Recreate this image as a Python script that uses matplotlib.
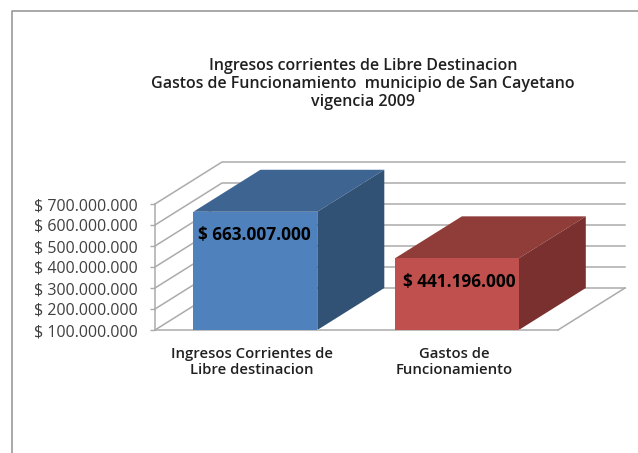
import matplotlib
matplotlib.use('Agg')
import matplotlib.pyplot as plt
from matplotlib.lines import Line2D
from matplotlib.patches import Polygon

plt.rcParams['font.family'] = ['Open Sans', 'DejaVu Sans']

TITLE = 'Ingresos corrientes de Libre Destinacion\nGastos de Funcionamiento  municipio de San Cayetano\nvigencia 2009'
CATEGORIES = ['Ingresos Corrientes de\nLibre destinacion', 'Gastos de\nFuncionamiento']
VALUES = [663007000, 441196000]
Y_TICKS = [100000000, 200000000, 300000000, 400000000, 500000000, 600000000, 700000000]

FRONT_COLORS = ['#4F81BD', '#C0504D']
TOP_COLORS = ['#3E6491', '#903C39']
SIDE_COLORS = ['#315275', '#7A302E']
GRID_COLOR = '#ABABAB'

W, H = 638, 453
BAR_WIDTH = 0.615
DEPTH_X = 0.3325
DEPTH_Y = 200000000


def money(value):
    return '$ ' + f'{value:,}'.replace(',', '.')


fig = plt.figure(figsize=(W / 100, H / 100), dpi=100)
ax = fig.add_axes([155 / W, 1 - 330 / H, 471 / W, 168 / H])
ax.set_xlim(0, 2.3375)
ax.set_ylim(100000000, 900000000)
ax.patch.set_visible(False)

# outer frame of the chart area, cut off by the picture
fig.add_artist(Line2D([12 / W, 12 / W, 1], [0, 1 - 10.5 / H, 1 - 10.5 / H], color='#9A9A9A', lw=1.2))

base = Y_TICKS[0]
for tick in Y_TICKS:
    ax.plot([0, DEPTH_X, 2 + DEPTH_X], [tick, tick + DEPTH_Y, tick + DEPTH_Y],
            color=GRID_COLOR, lw=1.1, clip_on=False, zorder=1)
ax.plot([2, 2 + DEPTH_X], [base, base + DEPTH_Y], color=GRID_COLOR, lw=1.1, clip_on=False, zorder=1)

for i, value in enumerate(VALUES):
    x0 = i + 0.498 - BAR_WIDTH / 2
    x1 = i + 0.498 + BAR_WIDTH / 2
    ax.add_patch(Polygon([(x0, value), (x1, value), (x1 + DEPTH_X, value + DEPTH_Y), (x0 + DEPTH_X, value + DEPTH_Y)],
                         facecolor=TOP_COLORS[i], edgecolor='none', clip_on=False, zorder=2))
    ax.add_patch(Polygon([(x1, base), (x1 + DEPTH_X, base + DEPTH_Y), (x1 + DEPTH_X, value + DEPTH_Y), (x1, value)],
                         facecolor=SIDE_COLORS[i], edgecolor='none', clip_on=False, zorder=2))
    ax.bar(i + 0.498, value - base, BAR_WIDTH, bottom=base, color=FRONT_COLORS[i], zorder=3)
    ax.text(i + 0.495 + 0.015 * i, value - 113000000, money(value), ha='center', va='center',
            fontsize=12.4, fontweight='bold', color='black', zorder=4)

for name, spine in ax.spines.items():
    spine.set_visible(name in ('left', 'bottom'))
    spine.set_color(GRID_COLOR)
    spine.set_linewidth(1.1)
ax.spines['left'].set_bounds(Y_TICKS[0], Y_TICKS[-1])
ax.spines['bottom'].set_bounds(0, 2)

ax.set_yticks(Y_TICKS)
ax.set_yticklabels([money(t) for t in Y_TICKS], fontsize=11.5, color='#404040')
ax.tick_params(axis='y', length=3.6, width=1, color=GRID_COLOR, pad=9)
ax.set_xticks([0.482, 1.485])
ax.set_xticklabels(CATEGORIES, fontsize=10.7, fontweight='semibold', color='#202020', linespacing=1.2)
ax.tick_params(axis='x', length=0, pad=12)

fig.text(363 / W, 1 - 84 / H, TITLE, ha='center', va='center', fontsize=11.5,
         fontweight='semibold', color='#202020', linespacing=1.16)

fig.savefig('out.png', dpi=100)
